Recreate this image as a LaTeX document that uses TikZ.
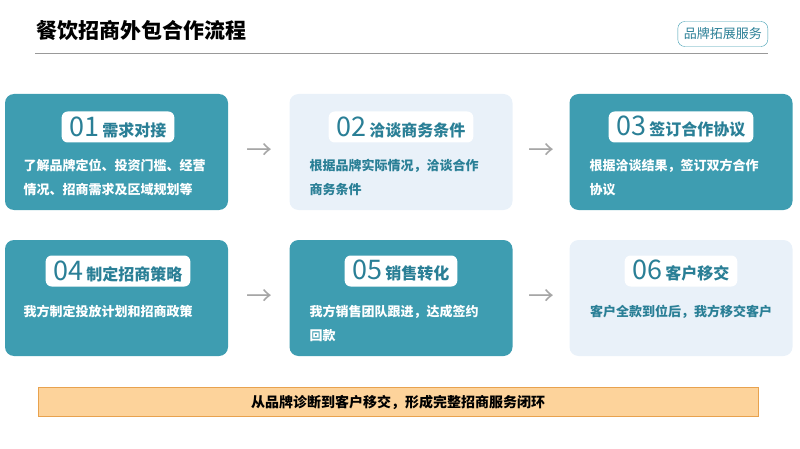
\documentclass[tikz,border=0pt]{standalone}
\usepackage{fontspec}
\setmainfont{Noto Sans CJK SC}
\usetikzlibrary{positioning}
\definecolor{teal}{HTML}{3E9DB1}
\definecolor{pale}{HTML}{E9F1F9}
\definecolor{deep}{HTML}{2A7F96}
\definecolor{sand}{HTML}{FDD39B}
\definecolor{rust}{HTML}{E8A24E}
\tikzset{
  card/.style={rounded corners=9pt, minimum width=223pt, minimum height=116pt, draw=none},
  dark/.style={card, fill=teal},
  light/.style={card, fill=pale},
  pill/.style={fill=white, rounded corners=6pt, inner xsep=8pt, inner ysep=2pt, minimum height=31pt, font=\bfseries\fontsize{16}{18}\selectfont},
  body/.style={anchor=north west, align=left, font=\bfseries\fontsize{13}{24}\selectfont},
  nextstep/.style={text=black!35, font=\fontsize{26}{26}\selectfont},
}
\newcommand{\num}[1]{{\mdseries\fontsize{27}{27}\selectfont\color{deep}#1}\,}
\begin{document}
\begin{tikzpicture}[x=1pt,y=-1pt]
  \useasboundingbox (0,0) rectangle (800,449);
  \node[anchor=west, font=\bfseries\fontsize{21}{24}\selectfont] (title) at (33,31) {餐饮招商外包合作流程};
  \draw[black!40] (35,53) -- (768,53);
  \node[draw=teal, rounded corners=7pt, text=deep, font=\fontsize{13}{15}\selectfont, minimum height=25pt, inner xsep=6pt, anchor=east] (tag) at (768,34) {品牌拓展服务};

  % first row
  \node[dark]  (c1) at (116.5,152) {};
  \node[light] (c2) at (401,152) {};
  \node[dark]  (c3) at (681,152) {};
  % second row
  \node[dark]  (c4) at (116.5,298) {};
  \node[dark]  (c5) at (401,298) {};
  \node[light] (c6) at (681,298) {};

  \node[pill, text=deep] (p1) at (118,127) {\num{01}需求对接};
  \node[pill, text=deep] (p2) at (401,127) {\num{02}洽谈商务条件};
  \node[pill, text=deep] (p3) at (681,127) {\num{03}签订合作协议};
  \node[pill, text=deep] (p4) at (118,271) {\num{04}制定招商策略};
  \node[pill, text=deep] (p5) at (401,271) {\num{05}销售转化};
  \node[pill, text=deep] (p6) at (681,271) {\num{06}客户移交};

  \node[body, text=white] (t1) at (20,156) {了解品牌定位、投资门槛、经营\\情况、招商需求及区域规划等};
  \node[body, text=deep] (t2) at (306,156) {根据品牌实际情况，洽谈合作\\商务条件};
  \node[body, text=white] (t3) at (586,156) {根据洽谈结果，签订双方合作\\协议};
  \node[body, text=white] (t4) at (20,302) {我方制定投放计划和招商政策};
  \node[body, text=white] (t5) at (306,302) {我方销售团队跟进，达成签约\\回款};
  \node[body, text=deep, anchor=north] (t6) at (681,302) {客户全款到位后，我方移交客户};

  \node[nextstep] (a1) at (259,152) {→};
  \node[nextstep] (a2) at (541,152) {→};
  \node[nextstep] (a3) at (259,298) {→};
  \node[nextstep] (a4) at (541,298) {→};

  \node[fill=sand, draw=rust, minimum width=720pt, minimum height=29pt, font=\bfseries\fontsize{14}{16}\selectfont] (band) at (398,402) {从品牌诊断到客户移交，形成完整招商服务闭环};
\end{tikzpicture}
\end{document}
